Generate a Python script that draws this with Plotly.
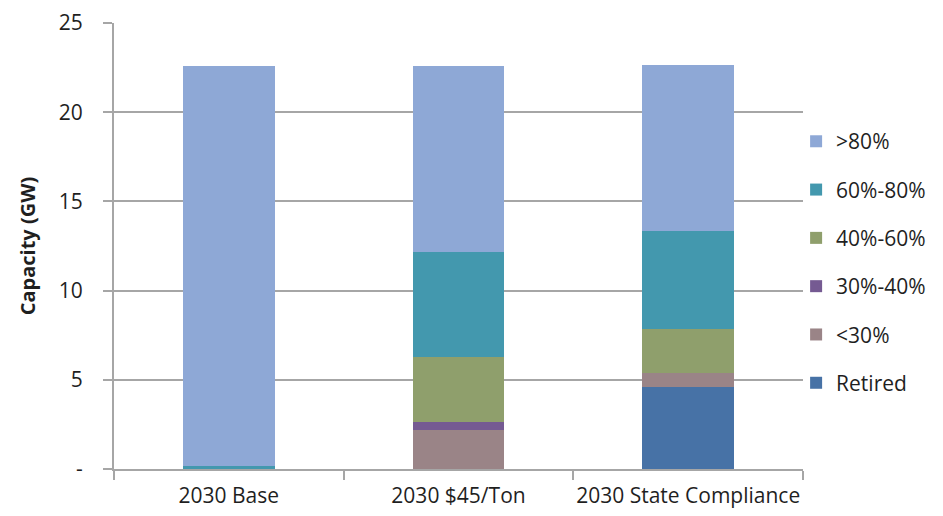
import plotly.graph_objects as go

# Scenarios on the x axis
scenarios = ["2030 Base", "2030 $45/Ton", "2030 State Compliance"]

# Capacity (GW) by capacity-factor bin, stacked bottom-up
retired = [0.0, 0.0, 4.59]
under_30 = [0.0, 2.20, 0.77]
pct_30_40 = [0.0, 0.43, 0.0]
pct_40_60 = [0.0, 3.66, 2.47]
pct_60_80 = [0.17, 5.87, 5.50]
over_80 = [22.42, 10.43, 9.32]

series = [
    ("Retired", retired, "#4772A6"),
    ("<30%", under_30, "#9A8487"),
    ("30%-40%", pct_30_40, "#755A92"),
    ("40%-60%", pct_40_60, "#8F9F6C"),
    ("60%-80%", pct_60_80, "#4398AE"),
    (">80%", over_80, "#8EA8D6"),
]

tick_vals = [0, 5, 10, 15, 20, 25]
tick_text = ["-", "5", "10", "15", "20", "25"]

font_family = "'Open Sans', Lato, sans-serif"

fig = go.Figure()
n = len(series)
for i, (name, vals, color) in enumerate(series):
    fig.add_trace(go.Bar(
        x=scenarios,
        y=vals,
        name=name,
        legendgroup=name,
        legendrank=n - i,  # top of the stack listed first
        marker=dict(color=color, line=dict(width=0)),
        width=0.4,
    ))

fig.update_layout(
    barmode="stack",
    width=943,
    height=516,
    margin=dict(l=114, r=137, t=23, b=47),
    paper_bgcolor="white",
    plot_bgcolor="white",
    font=dict(family=font_family, size=21, color="#1f1f1f"),
    legend=dict(
        traceorder="grouped",
        tracegroupgap=18,
        itemwidth=30,
        x=0.99,
        xanchor="left",
        y=0.78,
        yanchor="top",
        font=dict(size=21, color="#1f1f1f"),
        bgcolor="rgba(0,0,0,0)",
    ),
)

fig.update_xaxes(
    automargin=False,
    tickangle=0,
    showline=True,
    linecolor="#A6A6A6",
    linewidth=2,
    ticks="outside",
    tickson="boundaries",
    ticklen=9,
    tickwidth=2,
    tickcolor="#A6A6A6",
    showgrid=False,
    tickfont=dict(size=21),
    ticklabelstandoff=7,
)

fig.update_yaxes(
    automargin=False,
    range=[0, 25],
    tickvals=tick_vals,
    ticktext=tick_text,
    showline=True,
    linecolor="#A6A6A6",
    linewidth=2,
    ticks="outside",
    ticklen=9,
    tickwidth=2,
    tickcolor="#A6A6A6",
    showgrid=True,
    gridcolor="#A6A6A6",
    gridwidth=2,
    zeroline=False,
    tickfont=dict(size=21),
    ticklabelstandoff=16,
    title=dict(
        text="<b>Capacity (GW)</b>",
        font=dict(size=20, color="#1f1f1f"),
        standoff=18,
    ),
)

fig.write_html("out.html")
